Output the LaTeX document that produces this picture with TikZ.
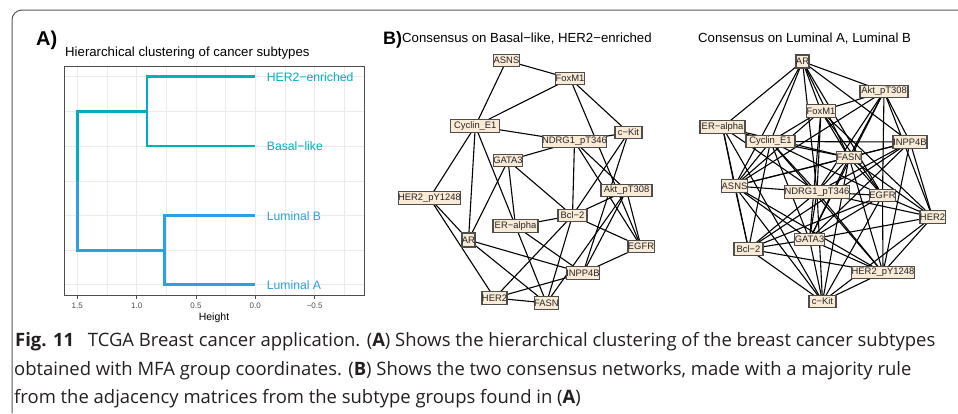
\documentclass[tikz,border=0pt]{standalone}
\usepackage{fontspec}
\setmainfont{Liberation Sans}
\newfontfamily\capfont{Open Sans}
\pgfdeclarelayer{bg}
\pgfsetlayers{bg,main}
\definecolor{tealc}{HTML}{00AFBB}
\definecolor{bluec}{HTML}{2E9FDF}
\definecolor{nodefill}{HTML}{FAEBD7}
\definecolor{nodeline}{HTML}{4D4D4D}
\definecolor{gridc}{HTML}{EBEBEB}
\definecolor{axisc}{HTML}{4D4D4D}
\definecolor{captxt}{HTML}{231F20}
\definecolor{framec}{HTML}{555555}
\tikzset{
  gn/.style={draw=nodeline, fill=nodefill, line width=1.1pt, inner sep=0pt,
    minimum height=12.5pt, font=\fontsize{9.4}{10}\selectfont, text=black!85},
  netedge/.style={line width=1.1pt, black},
  dend/.style={line width=2.6pt},
  gridmaj/.style={gridc, line width=1pt},
  gridmin/.style={gridc, line width=0.6pt},
  ticklab/.style={font=\fontsize{8}{9}\selectfont, text=axisc, anchor=base, inner sep=0pt},
  leaflab/.style={font=\fontsize{12.2}{13}\selectfont, anchor=base west, inner sep=0pt},
  ttl/.style={font=\fontsize{13.2}{14}\selectfont, anchor=base west, inner sep=0pt},
  panlab/.style={font=\bfseries\fontsize{20}{22}\selectfont, anchor=base west, inner sep=0pt},
  capline/.style={font=\capfont\fontsize{18.45}{20}\selectfont, text=captxt, anchor=base west, inner sep=0pt},
}
\begin{document}
\begin{tikzpicture}[x=1pt, y=-1pt]
\useasboundingbox (0,0) rectangle (958,413);
% frame
\draw[framec, line width=1pt, rounded corners=10pt] (12,413) -- (12,10) -- (958,10);

% ---------- Panel A ----------
\node[panlab] (labA) at (36,45) {A)};
\node[ttl] (ttlA) at (65,56.5) {Hierarchical clustering of cancer subtypes};
% grid
\foreach \x in {107,166.3,225.7,285,344.3} \draw[gridmin] (\x,66) -- (\x,295.3);
\foreach \y in {111.3,180.8,250.2} \draw[gridmin] (64.3,\y) -- (364.3,\y);
\foreach \x in {77.3,136.7,196,255.3,314.7} \draw[gridmaj] (\x,66) -- (\x,295.3);
\foreach \y in {76.7,146,215.7,284.7} \draw[gridmaj] (64.3,\y) -- (364.3,\y);
% dendrogram
\draw[dend, tealc] (255.3,76.7) -- (147,76.7) -- (147,146) -- (255.3,146);
\draw[dend, tealc] (147,111.3) -- (77.7,111.3) -- (77.7,180.8);
\draw[dend, bluec] (255.3,215.7) -- (164.7,215.7) -- (164.7,284.7) -- (255.3,284.7);
\draw[dend, bluec] (164.7,250.2) -- (77.7,250.2) -- (77.7,180.8);
% panel border and ticks
\draw[axisc, line width=0.9pt] (64.3,66) rectangle (364.3,295.3);
\foreach \x in {77.3,136.7,196,255.3,314.7} \draw[axisc, line width=0.8pt] (\x,295.3) -- (\x,298.5);
\node[ticklab] (t1) at (77.3,308) {1.5};
\node[ticklab] (t2) at (136.7,308) {1.0};
\node[ticklab] (t3) at (196,308) {0.5};
\node[ticklab] (t4) at (255.3,308) {0.0};
\node[ticklab] (t5) at (314.7,308) {−0.5};
\node[font=\fontsize{10.5}{11}\selectfont, anchor=base, inner sep=0pt] (hlab) at (214,320) {Height};
% leaf labels
\node[leaflab, text=tealc] (l1) at (266.7,81) {HER2−enriched};
\node[leaflab, text=tealc] (l2) at (266.7,150.3) {Basal−like};
\node[leaflab, text=bluec] (l3) at (266.7,220) {Luminal B};
\node[leaflab, text=bluec] (l4) at (266.7,289) {Luminal A};

% ---------- Panel B ----------
\node[panlab, font=\bfseries\fontsize{18}{20}\selectfont] (labB) at (383,44) {B)};
\node[ttl] (ttlB1) at (402,42.5) {Consensus on Basal−like, HER2−enriched};
\node[ttl] (ttlB2) at (698,42.5) {Consensus on Luminal A, Luminal B};

% network 1
\node[gn, minimum width=23pt] (aASNS) at (506.5,60.5) {ASNS};
\node[gn, minimum width=26pt] (aFoxM1) at (570,78.5) {FoxM1};
\node[gn, minimum width=49pt] (aCyc) at (475.3,126) {Cyclin\_E1};
\node[gn, minimum width=27pt] (acKit) at (628.5,132.5) {c−Kit};
\node[gn, minimum width=61pt] (aNDRG) at (574.5,141.5) {NDRG1\_pT346};
\node[gn, minimum width=28pt] (aGATA) at (508,160.5) {GATA3};
\node[gn, minimum width=51pt] (aAkt) at (626.5,190.5) {Akt\_pT308};
\node[gn, minimum width=61pt] (aHpY) at (429.5,198) {HER2\_pY1248};
\node[gn, minimum width=29pt] (aBcl) at (572.5,215.5) {Bcl−2};
\node[gn, minimum width=45pt] (aERa) at (515.5,226) {ER−alpha};
\node[gn, minimum width=11pt, minimum height=14pt] (aAR) at (468.5,240) {AR};
\node[gn, minimum width=22pt] (aEGFR) at (641,246.5) {EGFR};
\node[gn, minimum width=32pt] (aINPP) at (583,273) {INPP4B};
\node[gn, minimum width=23pt] (aHER) at (494.5,298) {HER2};
\node[gn, minimum width=23pt] (aFASN) at (546.5,303) {FASN};

\begin{pgfonlayer}{bg}
\foreach \u/\v in {ASNS/FoxM1, ASNS/Cyc, FoxM1/Cyc, FoxM1/cKit, FoxM1/EGFR,
  Cyc/NDRG, Cyc/HpY, Cyc/AR, Cyc/ERa, NDRG/cKit, NDRG/GATA, NDRG/Bcl, NDRG/Akt,
  NDRG/EGFR, cKit/Bcl, cKit/INPP, GATA/AR, GATA/ERa, GATA/Bcl, Akt/Bcl, Akt/EGFR,
  Akt/INPP, Akt/FASN, HpY/AR, HpY/HER, Bcl/ERa, Bcl/HER, Bcl/FASN, Bcl/EGFR,
  ERa/FASN, ERa/INPP, AR/INPP, AR/FASN, EGFR/INPP, HER/FASN, HER/INPP}
  \draw[netedge] (a\u.center) -- (a\v.center);
\end{pgfonlayer}

% network 2
\node[gn, minimum width=11pt, minimum height=13pt] (bAR) at (802.5,61.5) {AR};
\node[gn, minimum width=48pt] (bAkt) at (884,91.5) {Akt\_pT308};
\node[gn, minimum width=26pt] (bFoxM1) at (821,111) {FoxM1};
\node[gn, minimum width=45pt] (bERa) at (722.5,127) {ER−alpha};
\node[gn, minimum width=49pt] (bCyc) at (770.5,141.5) {Cyclin\_E1};
\node[gn, minimum width=34pt] (bINPP) at (910,142) {INPP4B};
\node[gn, minimum width=22pt] (bFASN) at (849,157.5) {FASN};
\node[gn, minimum width=23pt] (bASNS) at (734.5,186) {ASNS};
\node[gn, minimum width=62pt] (bNDRG) at (817,192) {NDRG1\_pT346};
\node[gn, minimum width=21pt] (bEGFR) at (882.5,195.5) {EGFR};
\node[gn, minimum width=21pt] (bHER) at (932.5,217) {HER2};
\node[gn, minimum width=27pt] (bGATA) at (809.5,239.5) {GATA3};
\node[gn, minimum width=29pt] (bBcl) at (748.5,249) {Bcl−2};
\node[gn, minimum width=62pt] (bHpY) at (883,272.5) {HER2\_pY1248};
\node[gn, minimum width=27pt] (bcKit) at (822.5,301.5) {c−Kit};

\begin{pgfonlayer}{bg}
\foreach \u/\v in {AR/ERa, AR/Akt, AR/FoxM1, AR/INPP, AR/FASN, AR/EGFR, AR/NDRG, AR/Cyc, AR/ASNS,
  Akt/FoxM1, Akt/FASN, Akt/EGFR, Akt/INPP, Akt/HER, Akt/ASNS, Akt/NDRG, Akt/GATA,
  FoxM1/Cyc, FoxM1/FASN, FoxM1/EGFR, FoxM1/NDRG, FoxM1/ASNS, FoxM1/GATA, FoxM1/HER,
  ERa/Cyc, ERa/ASNS, ERa/Bcl, ERa/NDRG, ERa/FASN, ERa/cKit,
  Cyc/INPP, Cyc/FASN, Cyc/NDRG, Cyc/GATA, Cyc/EGFR, Cyc/ASNS, Cyc/Bcl, Cyc/HpY,
  INPP/FASN, INPP/NDRG, INPP/GATA, INPP/HER, INPP/HpY, INPP/ASNS, INPP/Bcl,
  FASN/ASNS, FASN/NDRG, FASN/GATA, FASN/EGFR, FASN/HER, FASN/HpY, FASN/cKit,
  ASNS/NDRG, ASNS/GATA, ASNS/Bcl, ASNS/cKit, ASNS/HpY,
  NDRG/EGFR, NDRG/GATA, NDRG/HER, NDRG/HpY, NDRG/Bcl, NDRG/cKit,
  EGFR/HER, EGFR/HpY, EGFR/cKit, EGFR/GATA, EGFR/Bcl,
  HER/GATA, HER/HpY, HER/cKit, GATA/Bcl, GATA/HpY, GATA/cKit,
  Bcl/HpY, Bcl/cKit, HpY/cKit}
  \draw[netedge] (b\u.center) -- (b\v.center);
\end{pgfonlayer}

% ---------- Caption ----------
\node[capline] (cap1) at (15,346.5) {\textbf{Fig. 11}\hspace{0.75em}TCGA Breast cancer application. (\textbf{A}) Shows the hierarchical clustering of the breast cancer subtypes};
\node[capline] (cap2) at (14,375) {obtained with MFA group coordinates. (\textbf{B}) Shows the two consensus networks, made with a majority rule};
\node[capline] (cap3) at (14,403.3) {from the adjacency matrices from the subtype groups found in (\textbf{A})};
\end{tikzpicture}
\end{document}
